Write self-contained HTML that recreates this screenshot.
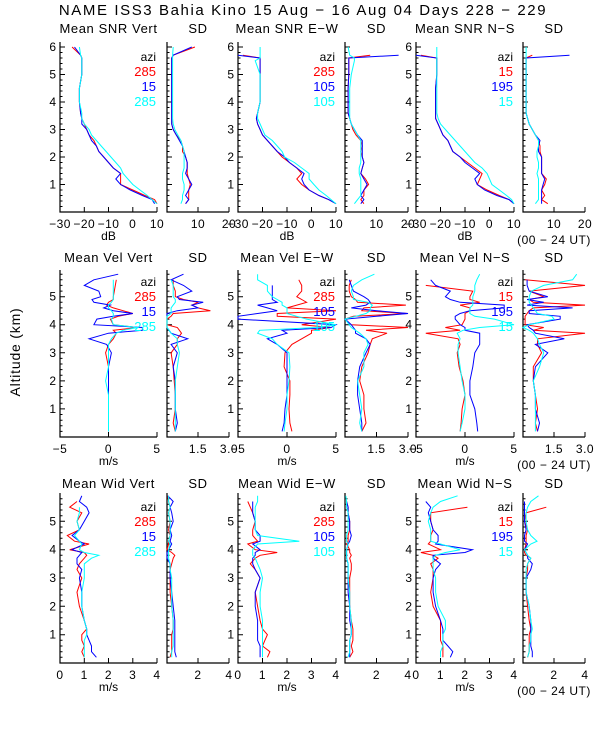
<!DOCTYPE html>
<html><head><meta charset="utf-8">
<style>
html,body{margin:0;padding:0;background:#fff;}
svg{display:block;font-family:"Liberation Sans",sans-serif;}
text{fill:#000;}
</style></head>
<body>
<svg id="chart" width="600" height="750" viewBox="0 0 600 750" xmlns="http://www.w3.org/2000/svg">
<rect width="600" height="750" fill="#fff"/>
<text x="303" y="15" font-size="15" letter-spacing="1.6" text-anchor="middle">NAME ISS3 Bahia Kino  15 Aug − 16 Aug 04 Days 228 − 229</text>
<text x="20" y="352" font-size="14" letter-spacing="0.8" text-anchor="middle" transform="rotate(-90 20 352)">Altitude (km)</text>
</svg>
<script>
// altitude grids (km)
const altSNR=[0.3,0.45,0.6,0.8,1.0,1.2,1.4,1.6,1.8,2.0,2.2,2.4,2.6,2.8,3.0,3.2,3.4,3.6,4.0,4.5,5.0,5.5,5.6,5.7,6.0];
const altVel=[0.2,0.5,1.0,1.5,2.0,2.5,3.0,3.3,3.5,3.7,3.8,3.9,4.0,4.2,4.3,4.4,4.5,4.6,4.7,4.8,4.9,5.0,5.2,5.4,5.6,5.8];
const altWid=[0.2,0.4,0.6,0.8,1.0,1.2,1.5,2.0,2.5,3.0,3.3,3.5,3.7,3.8,3.9,4.0,4.2,4.3,4.5,4.7,5.0,5.3,5.5,5.7,5.9];
// row 1: SNR
const snrVertRed=[10,9,5,0,-5,-5,-5,-8,-10,-12,-14,-15,-16,-18,-19,-20,-21,-21.5,-22,-22,-21,-21,-21,-21.5,-25];
const snrVertBlue=[9,8,4,-1,-5,-7,-5,-8,-10,-12,-14,-15,-17,-18,-19,-21,-21,-21.5,-22,-22,-21,-21,-21,-21.5,-24];
const snrVertCyan=[10,8,6,3,0,-2,-4,-5,-7,-9,-11,-13,-15,-17,-18,-20,-21,-21,-22,-22,-21,-21,-21,-21.5,-22];
const sdSnrVertRed=[6,7,7,7,7.5,7,6.5,6.5,6.5,6,5,5,4.5,3,2,1.5,1.5,1.5,1.5,1.5,1.5,1.5,1.5,2,9];
const sdSnrVertBlue=[6,7,6,7,8,7,6,6.5,6.5,6,5.5,5,4,3,2,1.5,1.5,1.5,1.5,1.5,1.5,1.5,1.5,2,8];
const sdSnrVertCyan=[4.5,5,5,5.5,5.5,5,5,5.5,5.5,5.5,5.5,5,4.5,3.5,2.5,2,1.8,1.8,1.8,1.8,1.8,1.8,1.8,1.8,2];
const snrEWRed=[10,7,3,-1,-4,-6,-4,-6,-9,-12,-14,-16,-18,-20,-21,-22,-22.5,-22,-21,-21,-21,-21,-21,-28,null];
const snrEWBlue=[10,7,3,-1,-3,-4,-3,-6,-9,-11,-14,-16,-18,-20,-21,-22,-22.5,-22,-21,-21,-21,-21,-21,-30,null];
const snrEWCyan=[10,8,6,3,1,-1,-1,-4,-7,-11,-12,-14,-16,-19,-20,-21,-22,-22,-21,-21,-21,-23,-21,-21,-21];
const sdSnrEWRed=[6,5,6,6,7.5,6.5,5,5.5,6,5.5,5,5.5,5,3.5,2.5,2,1.5,1,1,1,1.2,1.2,1.2,8,null];
const sdSnrEWBlue=[5,6,5,6,7,6,5,5.5,6,5.5,5.5,5.5,5.5,4,3,2,1.5,1,1,1,1.2,1.2,1.2,17,null];
const sdSnrEWCyan=[3,4,5,5,5,5,4.5,4.5,5,5,5,5,5,4,3,2,1.5,1.5,1.5,1.5,2,3,3,1.5,1];
const snrNSRed=[10,8,4,-1,-5,-4,-3,-6,-9,-12,-15,-16,-17,-19,-20,-21,-22,-22,-22,-22,-21.5,-21.5,-21.5,-28,null];
const snrNSBlue=[10,8,3,-2,-5,-6,-4,-7,-10,-12,-15,-16,-17,-19,-20,-21,-22,-22,-22,-22,-21.5,-21.5,-21.5,-30,null];
const snrNSCyan=[10,9,7,4,1,0,-1,-3,-6,-8,-10,-12,-14,-16,-18,-20,-21,-21.5,-21.5,-21.5,-21.5,-21.5,-21.5,-21.5,-21.5];
const sdSnrNSRed=[8,6,7,6,7,7.5,6,6,6,6,5.5,5.5,5,4,3,2,1.5,1,1,1,1,1,1,3,null];
const sdSnrNSBlue=[6,6,6,6,6.5,7,6,6,6,6,5,5,5.5,4,3,2,1.5,1,1,1,1,1,1,15,null];
const sdSnrNSCyan=[4,5,5,5,5,5,4.5,5,5,4.5,4.5,5,5,4,3,2,1.5,1,1,1,1,1,1,1,1];
// row 2: velocity
const velVertRed=[0,0,0,0,0,0,-0.3,0,0.5,0.8,0.5,3,0.5,0.2,1,2.5,1.5,0.5,-0.2,0,0.5,0.5,0.6,0.7,0.8,null];
const velVertBlue=[0,0,0,0,0,0,0.3,-0.2,-2,0,3.5,3.5,-1.5,-1.2,0.5,2.5,0.5,-0.5,0.2,-1.5,-1.7,-0.8,-1,-2.5,-1.5,1];
const velVertCyan=[0,0,0,0,-0.3,0,0,0,0.3,0.8,1.5,3,0.5,0.3,0.5,0.5,0.3,0,0,0.3,0.5,0.5,0.5,0.5,0.5,null];
const sdVelVertRed=[0.4,0.3,0.4,0.4,0.35,0.3,0.2,0.5,0.5,0.7,0.6,0.5,0,0,0.2,0.3,2.1,1.5,1.2,1.5,0.8,0.4,0.4,0.3,0.3,null];
const sdVelVertBlue=[0.4,0.5,0.4,0.4,0.4,0.3,0.5,0.2,1.0,0.2,0.1,0,0,0,0,0,0.5,1.5,1.2,1.75,0.6,0.5,1.2,0.8,0.2,0.8];
const sdVelVertCyan=[0.4,0.4,0.4,0.4,0.4,0.5,0.6,0.5,0.5,0.2,0.1,0,0,0,0,0.2,0.2,0.2,0.3,0.4,0.4,0.3,0.3,0.3,0.2,null];
const velEWRed=[0.5,0.3,0.2,0.3,0.3,-0.3,-0.2,0.5,1.5,2.5,2.5,4.5,1.5,5,-1,-1,5,0,1,2,1.5,1,1.5,1.5,1.2,null];
const velEWBlue=[-0.5,-0.3,-0.2,0,0,0,0,-1,-2,0,-0.5,4.5,5,-5,-5,-3,-1,-2,-3,-1,-1.5,-1.5,-1.5,-1.5,null,null];
const velEWCyan=[-0.3,-0.2,0,0,0.2,0.3,0.2,-1,-1.5,-3,-2.8,3,5,2,1,0,0,0,-0.5,-0.5,-1,-1.5,-2,-2,-3,-3];
const sdVelEWRed=[0.8,1.0,0.9,0.9,0.7,0.8,1.1,1.2,1.3,2.0,1.0,3.0,0.3,0.0,0.4,3.0,0.8,0.9,2.9,0.6,0.5,0.3,0.2,0.2,0.3,null];
const sdVelEWBlue=[0.8,0.8,0.7,0.6,0.6,0.7,1.0,1.2,1.0,0.5,0.5,0.4,0.3,0,1.5,3,1.5,0.3,1.0,1.2,1.1,0.9,0.4,0.3,0.2,null];
const sdVelEWCyan=[0.8,0.7,0.8,0.7,0.6,0.9,0.9,1.1,1.0,0.7,0.5,0.3,0.2,0.0,0.5,1.0,1.2,1.2,1.3,1.1,0.4,0.4,0.3,0.4,0.8,1.4];
const velNSRed=[-0.5,-0.4,-0.3,0,-0.2,-0.6,-0.8,-0.5,-0.7,-4,-0.5,-2,-0.3,0,0,0,0.5,0.5,-0.5,1.5,0.5,0.5,0.8,-4,null,null];
const velNSBlue=[1.3,1.2,1.0,0.5,0.5,0.8,1.0,1.5,1.5,1.5,0,0,-0.5,-1,-1,-0.5,0.5,4,4,-0.5,-1.5,-2,-1.5,-3,-3.5,null];
const velNSCyan=[-0.5,-0.3,0,0,-0.3,-0.5,-0.7,-0.7,-0.5,-0.8,-0.2,1.5,5,3,1,0.5,0.5,0.5,0.8,0.8,0.8,0.8,1,1,1.2,1.5];
const sdVelNSRed=[0.7,0.6,0.7,0.6,0.5,0.5,0.9,0.7,0.7,3.0,0.5,1.0,0.1,0.1,0.1,0.2,0.3,0.5,3.0,0.5,0.3,1.0,0.3,3.0,0.1,null];
const sdVelNSBlue=[0.7,0.8,0.6,0.6,0.5,0.6,1.2,0.6,2.0,0.6,0.5,0.3,0.2,1.8,1.8,0.3,0.3,2.4,0.2,1.0,0.2,1.2,0.3,0.2,0.2,null];
const sdVelNSCyan=[0.6,0.6,0.6,0.6,0.5,0.8,1.0,0.8,0.7,0.5,0.3,0.0,0.3,1.5,1.4,0.7,0.6,0.5,0.4,0.3,0.3,0.3,0.4,1.0,2.4,2.6];
// row 3: width
const widVertRed=[1.0,0.9,1.0,0.9,0.9,1.1,1.0,0.8,0.7,0.9,0.7,0.8,1.0,1.1,1.0,0.4,1.2,0.6,0.3,0.8,0.7,0.9,0.4,0.7,null];
const widVertBlue=[1.5,1.3,1.3,1.2,1.1,1.1,1.0,0.9,0.9,0.8,0.9,0.7,0.7,0.8,0.9,0.5,1.0,0.8,0.5,0.8,1.0,1.2,1.1,0.8,0.9];
const widVertCyan=[1.0,1.0,1.0,1.0,1.1,1.1,1.0,0.9,0.9,1.0,1.0,1.0,1.3,1.6,1.0,0.8,0.9,0.8,0.6,0.8,0.7,0.8,0.8,null,null];
const sdWidVertRed=[0.2,0.3,0.3,0.3,0.3,0.4,0.4,0.3,0.2,0.2,0.2,0.3,0.4,0.5,0.3,0.0,0.1,0.1,0.2,0.1,0.2,0.1,0.2,0.1,0.05];
const sdWidVertBlue=[0.6,0.5,0.5,0.5,0.5,0.5,0.5,0.4,0.3,0.2,0.2,0.2,0.0,0.0,0.0,0.1,0.3,0.2,0.3,0.2,0.4,0.3,0.2,0.4,0.05];
const sdWidVertCyan=[0.3,0.3,0.4,0.4,0.4,0.4,0.4,0.3,0.3,0.3,0.2,0.2,0.1,0.1,0.1,0.1,0.2,0.1,0.2,0.2,0.2,0.1,0.2,0.1,0.1];
const widEWRed=[1.2,1.3,1.0,1.1,1.2,1.0,0.9,0.8,0.7,0.9,0.7,0.5,0.7,0.9,1.6,0.7,0.4,0.8,0.6,0.6,0.7,0.6,0.5,0.4,null];
const widEWBlue=[0.9,0.9,0.9,0.8,0.8,0.8,0.8,0.7,0.7,0.9,0.7,0.6,0.6,0.7,0.7,0.9,0.6,0.9,0.9,0.7,0.7,0.6,0.6,0.6,null];
const widEWCyan=[1.0,1.0,1.0,1.0,1.0,1.0,1.0,0.9,0.9,1.0,0.9,0.8,0.7,0.6,0.6,0.6,0.8,2.5,0.8,0.7,0.7,0.7,0.7,0.8,0.8];
const sdWidEWRed=[0.3,0.5,0.4,0.5,0.5,0.5,0.4,0.3,0.3,0.3,0.4,0.4,0.3,0.4,0.3,0.3,0.1,0.2,0.2,0.3,0.3,0.2,0.2,0.1,null];
const sdWidEWBlue=[0.3,0.3,0.3,0.3,0.4,0.4,0.3,0.3,0.2,0.2,0.2,0.2,0.1,0.1,0.1,0.1,0.2,0.3,0.4,0.3,0.3,0.2,0.2,0.1,null];
const sdWidEWCyan=[0.2,0.3,0.3,0.3,0.4,0.4,0.4,0.3,0.3,0.2,0.2,0.2,0.1,0.1,0.1,0.1,0.2,0.1,0.1,0.2,0.2,0.2,0.1,0.1,0.05];
const widNSRed=[1.1,1.1,1.1,1.0,1.0,1.0,1.0,0.7,0.6,0.7,0.7,0.6,0.9,0.7,0.2,1.0,0.5,0.6,0.6,0.7,0.6,0.6,2.1,null,null];
const widNSBlue=[1.4,1.5,1.3,1.1,1.1,1.1,1.0,0.8,0.7,0.7,0.8,1.0,0.7,0.7,2.0,2.3,0.8,0.9,0.9,0.7,0.6,0.5,0.6,0.4,null];
const widNSCyan=[1.0,1.0,1.1,1.1,1.1,1.2,1.2,0.9,0.8,0.8,0.7,0.7,0.7,0.8,1.2,1.8,1.0,0.6,0.6,0.6,0.5,0.6,0.7,1.0,1.7];
const sdWidNSRed=[0.3,0.4,0.4,0.4,0.4,0.5,0.4,0.3,0.2,0.2,0.3,0.3,0.5,0.2,0.1,0.1,0.2,0.2,0.2,0.3,0.1,0.2,1.5,null,null];
const sdWidNSBlue=[0.6,0.6,0.5,0.5,0.5,0.5,0.5,0.4,0.2,0.2,0.5,0.6,0.3,0.3,0.2,0.1,0.3,0.1,0.1,0.2,0.1,0.1,0.1,0.1,null];
const sdWidNSCyan=[0.3,0.4,0.4,0.5,0.5,0.6,0.5,0.4,0.2,0.2,0.2,0.3,0.5,0.3,0.2,0.1,0.5,0.9,0.5,0.3,0.2,0.2,0.3,0.5,1.0];
// tick labels
const snrTicks=[-30,-20,-10,0,10];
const sdSnrTicks=[10,20];
const velTicks=[-5,0,5];
const sdVelTicks=["1.5","3.0"];
const widTicks=[0,1,2,3,4];
const sdWidTicks=[2,4];
const altTicksSNR=[1,2,3,4,5,6];
const altTicksVW=[1,2,3,4,5];
const legendVert=["285","15","285"];
const legendEW=["285","105","105"];
const legendNS=["15","195","15"];

const svg=document.getElementById('chart');
const NS='http://www.w3.org/2000/svg';
const COLORS=['#ff0000','#0000ff','#00ffff'];
function el(tag,attrs,parent){const e=document.createElementNS(NS,tag);for(const k in attrs)e.setAttribute(k,attrs[k]);(parent||svg).appendChild(e);return e;}

const cols=[{m:[60,157],s:[167,229]},{m:[238,336],s:[345,408]},{m:[416,514],s:[523,585]}];
const rows=[
 {top:42,bot:212,kmTop:6.18,alts:altSNR,yt:altTicksSNR,titleY:33,legY:61,unit:'dB',mRange:[-30,10],sRange:[0,20],mTicks:snrTicks,sTicks:sdSnrTicks,
  names:['Mean SNR Vert','Mean SNR E−W','Mean SNR N−S'],
  mean:[[snrVertRed,snrVertBlue,snrVertCyan],[snrEWRed,snrEWBlue,snrEWCyan],[snrNSRed,snrNSBlue,snrNSCyan]],
  sd:[[sdSnrVertRed,sdSnrVertBlue,sdSnrVertCyan],[sdSnrEWRed,sdSnrEWBlue,sdSnrEWCyan],[sdSnrNSRed,sdSnrNSBlue,sdSnrNSCyan]]},
 {top:270,bot:437,kmTop:5.95,alts:altVel,yt:altTicksVW,titleY:262,legY:286,unit:'m/s',mRange:[-5,5],sRange:[0,3],mTicks:velTicks,sTicks:sdVelTicks,
  names:['Mean Vel Vert','Mean Vel E−W','Mean Vel N−S'],
  mean:[[velVertRed,velVertBlue,velVertCyan],[velEWRed,velEWBlue,velEWCyan],[velNSRed,velNSBlue,velNSCyan]],
  sd:[[sdVelVertRed,sdVelVertBlue,sdVelVertCyan],[sdVelEWRed,sdVelEWBlue,sdVelEWCyan],[sdVelNSRed,sdVelNSBlue,sdVelNSCyan]]},
 {top:493,bot:663,kmTop:6.0,alts:altWid,yt:altTicksVW,titleY:488,legY:511,unit:'m/s',mRange:[0,4],sRange:[0,4],mTicks:widTicks,sTicks:sdWidTicks,
  names:['Mean Wid Vert','Mean Wid E−W','Mean Wid N−S'],
  mean:[[widVertRed,widVertBlue,widVertCyan],[widEWRed,widEWBlue,widEWCyan],[widNSRed,widNSBlue,widNSCyan]],
  sd:[[sdWidVertRed,sdWidVertBlue,sdWidVertCyan],[sdWidEWRed,sdWidEWBlue,sdWidEWCyan],[sdWidNSRed,sdWidNSBlue,sdWidNSCyan]]}
];
const legends=[legendVert,legendEW,legendNS];

function panel(r,px,range,ticks,seriesSet,title,isMean,ci,ri){
  const g=el('g',{});
  
  
  const [x0,x1]=px;
  const xs=v=>x0+(v-range[0])/(range[1]-range[0])*(x1-x0);
  const ys=a=>r.bot-a/r.kmTop*(r.bot-r.top);
  const ax=el('path',{d:`M${x0} ${r.top}V${r.bot}H${x1}`,stroke:'#000','stroke-width':1.2,fill:'none'},g);
  
  
  let tk='';
  for(let a=0.2;a<r.kmTop;a+=0.2){const y=ys(a).toFixed(1);const major=Math.abs(a-Math.round(a))<0.01;tk+=`M${x0} ${y}h${major?5:2.5}`;}
  ticks.forEach(t=>{const x=xs(parseFloat(t)).toFixed(1);tk+=`M${x} ${r.bot}v-5`;});
  el('path',{d:tk,stroke:'#000','stroke-width':1,fill:'none'},g);
  ticks.forEach(t=>{const tl=el('text',{x:xs(parseFloat(t)),y:r.bot+16,'font-size':12,'letter-spacing':0.5,'text-anchor':'middle'},g);tl.textContent=(typeof t==='number'&&t<0)?'−'+(-t):String(t);
    
    });
  if(isMean){
    r.yt.forEach(t=>{const tl=el('text',{x:x0-4,y:ys(t)+4,'font-size':12,'text-anchor':'end'},g);tl.textContent=t;
      
      });
    const u=el('text',{x:(x0+x1)/2,y:r.bot+28,'font-size':12,'text-anchor':'middle'},g);u.textContent=r.unit;
    
    
  }
  const tt=el('text',{x:(x0+x1)/2,y:r.titleY,'font-size':13,'letter-spacing':0.6,'text-anchor':'middle'},g);tt.textContent=title;
  
  
  seriesSet.forEach((vals,si)=>{
    let d='',pen=false;
    vals.forEach((v,i)=>{if(v===null||v===undefined){pen=false;return;}d+=(pen?'L':'M')+xs(v).toFixed(1)+' '+ys(r.alts[i]).toFixed(1);pen=true;});
    const p=el('path',{d:d,stroke:COLORS[si],'stroke-width':1,fill:'none'},g);
    
    
  });
  if(isMean){
    const lg=el('g',{},g);
    
    
    const a=el('text',{x:x1-1,y:r.legY,'font-size':12,'text-anchor':'end'},lg);a.textContent='azi';
    legends[ci].forEach((s,k)=>{const t=el('text',{x:x1-1,y:r.legY+15*(k+1),'font-size':13,'text-anchor':'end',style:'fill:'+COLORS[k]},lg);t.textContent=s;
      
      });
  }
}
rows.forEach((r,ri)=>{
  cols.forEach((c,ci)=>{
    panel(r,c.m,r.mRange,r.mTicks,r.mean[ci],r.names[ci],true,ci,ri);
    panel(r,c.s,r.sRange,r.sTicks,r.sd[ci],'SD',false,ci,ri);
  });
  const ut=el('text',{x:554,y:r.bot+32,'font-size':12,'letter-spacing':0.5,'text-anchor':'middle'});ut.textContent='(00 − 24 UT)';
  
  
});
</script>
</body></html>
